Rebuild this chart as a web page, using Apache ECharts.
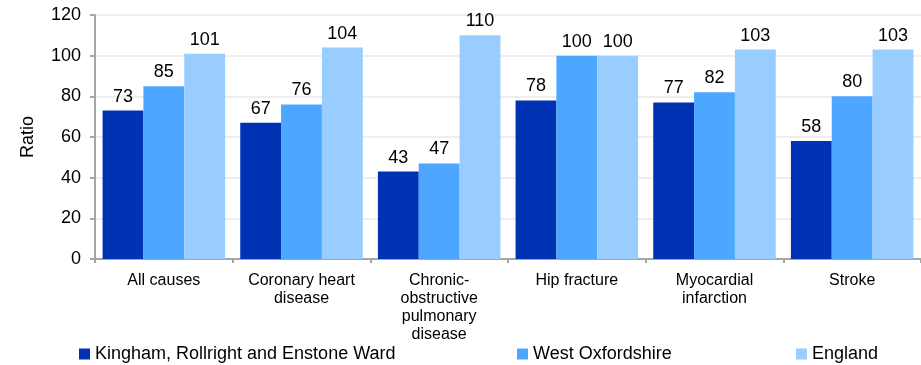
<!DOCTYPE html>
<html>
<head>
<meta charset="utf-8">
<script src="https://cdn.jsdelivr.net/npm/echarts@6/dist/echarts.min.js"></script>
<style>
  html, body { margin: 0; padding: 0; background: #fff; }
  #chart { width: 921px; height: 365px; }
</style>
</head>
<body>
<div id="chart"></div>
<script>
var categories = ['All causes', 'Coronary heart\ndisease', 'Chronic-\nobstructive\npulmonary\ndisease', 'Hip fracture', 'Myocardial\ninfarction', 'Stroke'];
var seriesNames = ['Kingham, Rollright and Enstone Ward', 'West Oxfordshire', 'England'];
var wardValues = [73, 67, 43, 78, 77, 58];
var districtValues = [85, 76, 47, 100, 82, 80];
var englandValues = [101, 104, 110, 100, 103, 103];
var yTicks = [0, 20, 40, 60, 80, 100, 120];

var colors = ['#0033b4', '#4da6ff', '#99ccff'];
var fontFam = 'Liberation Sans, Arial, sans-serif';

var chart = echarts.init(document.getElementById('chart'));

function makeSeries(name, data, color) {
  return {
    name: name,
    type: 'bar',
    data: data,
    barGap: '0%',
    barCategoryGap: '11%',
    itemStyle: { color: color },
    label: {
      show: true,
      position: 'top',
      distance: 5,
      color: '#000',
      fontSize: 18,
      fontFamily: fontFam
    }
  };
}

// three separate legends so each item sits where the original has it
var legendLefts = [74, 512, 791];
var legends = [];
for (var i = 0; i < seriesNames.length; i++) {
  legends.push({
    data: [seriesNames[i]],
    left: legendLefts[i],
    top: 340,
    itemWidth: 11,
    itemHeight: 11,
    itemGap: 8,
    icon: 'rect',
    textStyle: { fontSize: 18, color: '#000', fontFamily: fontFam }
  });
}

chart.setOption({
  animation: false,
  color: colors,
  grid: { left: 95, right: 0, top: 15, bottom: 106 },
  legend: legends,
  xAxis: {
    type: 'category',
    data: categories,
    axisLine: { lineStyle: { color: '#a6a6a6', width: 2 } },
    axisTick: { show: true, length: 4, lineStyle: { color: '#a6a6a6', width: 2 } },
    axisLabel: {
      interval: 0,
      margin: 13,
      fontSize: 16,
      lineHeight: 18,
      color: '#000',
      fontFamily: fontFam
    }
  },
  yAxis: {
    type: 'value',
    min: yTicks[0],
    max: yTicks[yTicks.length - 1],
    interval: 20,
    name: 'Ratio',
    nameLocation: 'middle',
    nameGap: 58,
    nameTextStyle: { fontSize: 18, color: '#000', fontFamily: fontFam },
    axisLine: { show: true, lineStyle: { color: '#a6a6a6', width: 2 } },
    axisTick: { show: true, length: 5, lineStyle: { color: '#a6a6a6', width: 2 } },
    axisLabel: { fontSize: 18, color: '#000', margin: 14, fontFamily: fontFam },
    splitLine: { lineStyle: { color: '#eeeeee', width: 2 } }
  },
  series: [
    makeSeries(seriesNames[0], wardValues, colors[0]),
    makeSeries(seriesNames[1], districtValues, colors[1]),
    makeSeries(seriesNames[2], englandValues, colors[2])
  ]
});
</script>
</body>
</html>
